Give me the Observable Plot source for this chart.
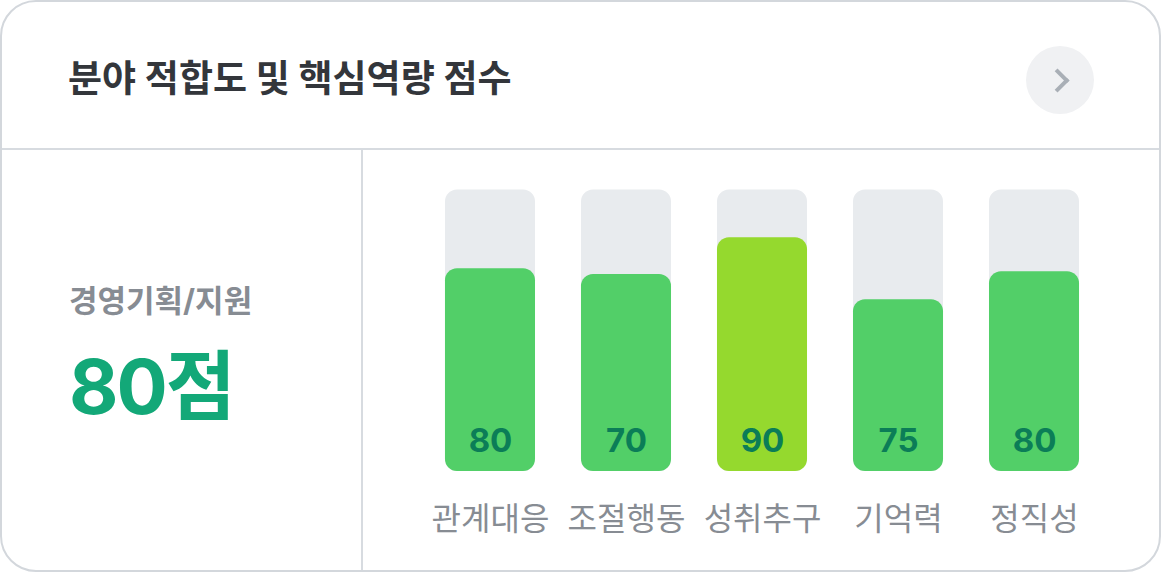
<!DOCTYPE html>
<html lang="ko">
<head>
<meta charset="utf-8">
<script src="https://cdn.jsdelivr.net/npm/d3@7"></script>
<script src="https://cdn.jsdelivr.net/npm/@observablehq/plot@0.6"></script>
<style>
  html, body { margin: 0; padding: 0; background: #ffffff; }
  body { width: 1162px; height: 573px; position: relative; overflow: hidden;
         font-family: Inter, "Noto Sans CJK KR", "Noto Sans", sans-serif; }
  .card { position: absolute; left: 0; top: 0; width: 1161px; height: 572px; box-sizing: border-box;
          border: 2px solid #d3d7dc; border-radius: 36px; background: #fff; overflow: hidden; }
  .header { position: absolute; left: 0; top: 0; right: 0; height: 146px; border-bottom: 2px solid #d7dbe0; }
  .title { position: absolute; left: 66px; top: 55px; margin: 0; font-size: 37px; font-weight: 700;
           color: #33363b; letter-spacing: 0; line-height: 1.2; white-space: nowrap; }
  .btn { position: absolute; left: 1024px; top: 44px; width: 68px; height: 68px; border-radius: 50%;
         background: #f0f1f3; }
  .btn::after { content: ""; position: absolute; left: 23px; top: 26px; width: 13px; height: 13px;
         border-right: 4px solid #a9afb6; border-top: 4px solid #a9afb6; transform: rotate(45deg); }
  .left { position: absolute; left: 0; top: 148px; width: 359px; bottom: 0; border-right: 2px solid #d7dbe0; }
  .field { position: absolute; left: 67px; top: 135px; font-size: 31px; font-weight: 700; color: #878c93;
           letter-spacing: 0; line-height: 1; white-space: nowrap; }
  .score { position: absolute; left: 67px; top: 198px; font-size: 76px; font-weight: 700; color: #13a878;
           letter-spacing: -2px; line-height: 1; white-space: nowrap; }
  #chart { position: absolute; left: 360px; top: 146px; }
</style>
</head>
<body>
<div class="card">
  <div class="header">
    <h1 class="title">분야 적합도 및 핵심역량 점수</h1>
    <div class="btn"></div>
  </div>
  <div class="left">
    <div class="field" id="field"></div>
    <div class="score" id="score"></div>
  </div>
  <div id="chart"></div>
</div>
<script>
// ---- data ----
const categories = ["관계대응", "조절행동", "성취추구", "기억력", "정직성"];
const scores = [80, 70, 90, 75, 80];          // labels printed in the bars
const fillLevels = [72, 70, 83, 61, 71];       // bar heights as drawn (% of track)
const trackMax = 100;
const fieldName = "경영기획/지원";
const totalScore = 80;

document.getElementById("field").textContent = fieldName;
document.getElementById("score").textContent = totalScore + "점";

const data = categories.map((c, i) => ({category: c, score: scores[i], level: fillLevels[i]}));
const tracks = categories.map(c => ({category: c, max: trackMax}));
const topScore = d3.max(scores);

const chart = Plot.plot({
  width: 797,
  height: 423,
  marginTop: 41.5,
  marginBottom: 100,
  marginLeft: 37,
  marginRight: 34,
  style: {fontFamily: 'Inter, "Noto Sans CJK KR", sans-serif', color: "#878c93", background: "transparent", overflow: "visible"},
  x: {domain: categories, padding: 0.338, round: false, label: null},
  y: {domain: [0, trackMax], axis: null},
  marks: [
    Plot.barY(tracks, {x: "category", y: "max", fill: "#e8ebee", rx: 12}),
    Plot.barY(data, {x: "category", y: "level", fill: d => d.score === topScore ? "#95d92e" : "#52cf68", rx: 12}),
    Plot.text(data, {x: "category", y: 0, text: d => String(d.score), dy: -20, lineAnchor: "bottom",
      fontSize: 33, fontWeight: 700, fill: "#0b7d57"}),
    Plot.axisX({tickSize: 0, tickPadding: 36, fontSize: 32, fill: "#878c93", label: null})
  ]
});
document.getElementById("chart").appendChild(chart);
</script>
</body>
</html>
